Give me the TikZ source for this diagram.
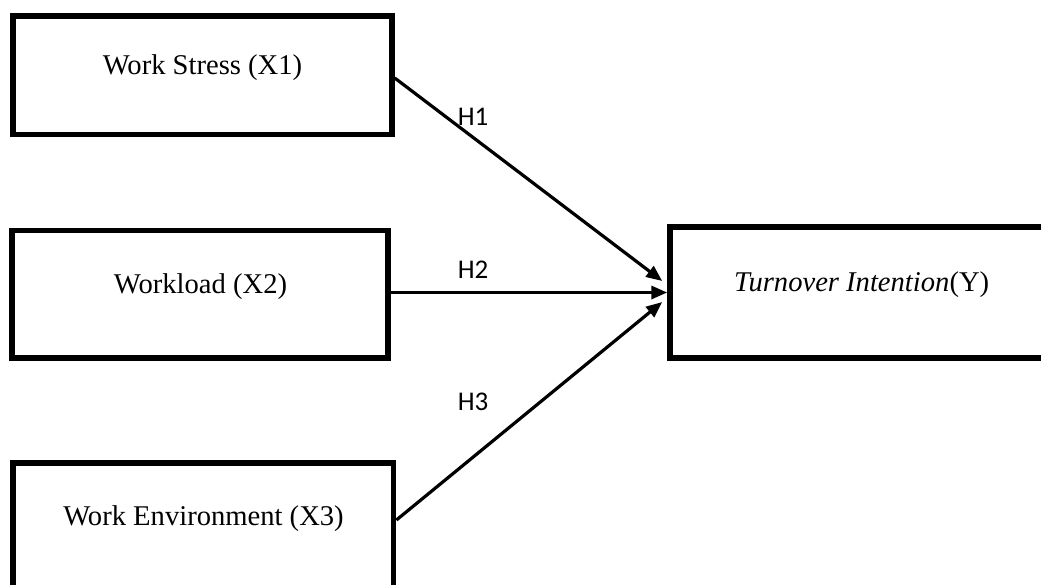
\documentclass[tikz,border=0pt]{standalone}
\usepackage{fontspec}
\setmainfont{Liberation Serif}
\newfontfamily\hfont{Carlito}
\usetikzlibrary{arrows.meta}
\begin{document}
\begin{tikzpicture}[x=1pt,y=-1pt,
  box/.style={draw=black, line width=5.5pt, inner sep=0pt, fill=none},
  lbl/.style={inner sep=0pt, anchor=base, font=\fontsize{28.6}{30}\selectfont},
  hyp/.style={inner sep=0pt, anchor=base, font=\hfont\fontsize{27}{29}\selectfont},
  arr/.style={line width=3.2pt, -{Triangle[length=16pt,width=13pt]}}]
\path[use as bounding box] (0,0) rectangle (1041,584);
\clip (0,0) rectangle (1041,584);
% boxes
\node[box, minimum width=379pt, minimum height=118.5pt] (b1) at (202.5,75.25) {};
\node[box, minimum width=376pt, minimum height=127.5pt] (b2) at (200,294.25) {};
\node[box, minimum width=380.7pt, minimum height=125pt] (b3) at (203.3,525.5) {};
\node[box, minimum width=383pt, minimum height=131pt] (ty) at (861.5,292.5) {};
% texts
\node[lbl] (t1) at (202.5,74) {Work Stress (X1)};
\node[lbl] (t2) at (200.5,293.5) {Workload (X2)};
\node[lbl] (t3) at (203.5,525.5) {Work Environment (X3)};
\node[lbl] (t4) at (861.7,291.5) {\textit{Turnover Intention}(Y)};
% connectors
\draw[arr] ([yshift=-2.75pt]b1.east) -- ([xshift=-5pt,yshift=11.5pt]ty.west);
\draw[arr] (b2.east |- ty.west) -- (ty.west);
\draw[arr] ([yshift=5.5pt]b3.east) -- ([xshift=-5pt,yshift=-9.5pt]ty.west);
% hypothesis labels
\node[hyp] (h1) at (473,125) {H1};
\node[hyp] (h2) at (473,278) {H2};
\node[hyp] (h3) at (473,410) {H3};
\end{tikzpicture}
\end{document}
